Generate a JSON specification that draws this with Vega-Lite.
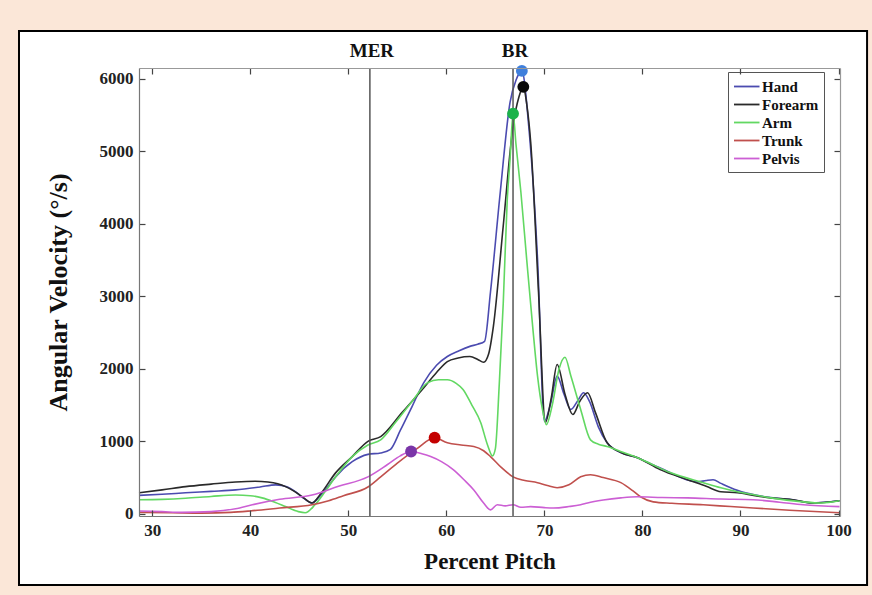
{
  "$schema": "https://vega.github.io/schema/vega-lite/v6.json",
  "width": 701,
  "height": 448,
  "autosize": {"type": "none"},
  "padding": {"left": 139, "top": 68, "right": 32, "bottom": 79},
  "background": "#fbe7d8",
  "config": {
    "view": {"stroke": null},
    "axis": {
      "labelFont": "Liberation Serif",
      "labelFontWeight": "bold",
      "labelFontSize": 17,
      "labelColor": "#222222",
      "titleFont": "Liberation Serif",
      "titleFontWeight": "bold",
      "titleColor": "#111111",
      "domainColor": "#777777",
      "domainWidth": 1.2,
      "tickColor": "#444444",
      "tickWidth": 1.2,
      "tickSize": -6,
      "labelPadding": 12,
      "grid": false
    },
    "legend": {
      "labelFont": "Liberation Serif",
      "labelFontWeight": "bold",
      "labelFontSize": 15,
      "labelColor": "#111111"
    }
  },
  "datasets": {
    "curves": [
      {"series":"Hand","pct":28.65,"vel":255},{"series":"Hand","pct":31,"vel":270},{"series":"Hand","pct":33.4,"vel":290},{"series":"Hand","pct":36,"vel":310},{"series":"Hand","pct":38.5,"vel":330},{"series":"Hand","pct":41,"vel":370},{"series":"Hand","pct":42.6,"vel":400},{"series":"Hand","pct":43.8,"vel":370},{"series":"Hand","pct":44.6,"vel":305},{"series":"Hand","pct":45.5,"vel":210},{"series":"Hand","pct":46.3,"vel":150},{"series":"Hand","pct":47,"vel":230},{"series":"Hand","pct":48,"vel":390},{"series":"Hand","pct":48.7,"vel":510},{"series":"Hand","pct":50.4,"vel":720},{"series":"Hand","pct":52,"vel":820},{"series":"Hand","pct":53.3,"vel":840},{"series":"Hand","pct":54.3,"vel":890},{"series":"Hand","pct":55.3,"vel":1150},{"series":"Hand","pct":56.5,"vel":1480},{"series":"Hand","pct":57.7,"vel":1810},{"series":"Hand","pct":59,"vel":2050},{"series":"Hand","pct":60.1,"vel":2170},{"series":"Hand","pct":61.3,"vel":2250},{"series":"Hand","pct":62.4,"vel":2310},{"series":"Hand","pct":63.2,"vel":2340},{"series":"Hand","pct":63.9,"vel":2380},{"series":"Hand","pct":64.5,"vel":3060},{"series":"Hand","pct":65.5,"vel":4440},{"series":"Hand","pct":66.5,"vel":5680},{"series":"Hand","pct":67.1,"vel":5980},{"series":"Hand","pct":67.7,"vel":6110},{"series":"Hand","pct":68.4,"vel":5350},{"series":"Hand","pct":69.3,"vel":3510},{"series":"Hand","pct":70,"vel":1280},{"series":"Hand","pct":70.6,"vel":1500},{"series":"Hand","pct":71.3,"vel":1900},{"series":"Hand","pct":72,"vel":1650},{"series":"Hand","pct":72.7,"vel":1440},{"series":"Hand","pct":73.4,"vel":1560},{"series":"Hand","pct":74,"vel":1670},{"series":"Hand","pct":74.6,"vel":1550},{"series":"Hand","pct":75.5,"vel":1200},{"series":"Hand","pct":76.4,"vel":980},{"series":"Hand","pct":77.8,"vel":845},{"series":"Hand","pct":79.5,"vel":775},{"series":"Hand","pct":81,"vel":680},{"series":"Hand","pct":82.9,"vel":565},{"series":"Hand","pct":84.5,"vel":470},{"series":"Hand","pct":85.6,"vel":440},{"series":"Hand","pct":86.5,"vel":460},{"series":"Hand","pct":87.2,"vel":470},{"series":"Hand","pct":88,"vel":420},{"series":"Hand","pct":89,"vel":360},{"series":"Hand","pct":90.2,"vel":300},{"series":"Hand","pct":91.3,"vel":265},{"series":"Hand","pct":93.1,"vel":225},{"series":"Hand","pct":95,"vel":200},{"series":"Hand","pct":97.4,"vel":150},{"series":"Hand","pct":98.5,"vel":160},{"series":"Hand","pct":100.1,"vel":180},

      {"series":"Forearm","pct":28.65,"vel":290},{"series":"Forearm","pct":31,"vel":330},{"series":"Forearm","pct":33.4,"vel":375},{"series":"Forearm","pct":36,"vel":410},{"series":"Forearm","pct":38.5,"vel":440},{"series":"Forearm","pct":40.5,"vel":450},{"series":"Forearm","pct":41.8,"vel":440},{"series":"Forearm","pct":42.8,"vel":415},{"series":"Forearm","pct":43.6,"vel":375},{"series":"Forearm","pct":44.5,"vel":310},{"series":"Forearm","pct":45.3,"vel":235},{"series":"Forearm","pct":46.3,"vel":150},{"series":"Forearm","pct":47.2,"vel":280},{"series":"Forearm","pct":48.7,"vel":565},{"series":"Forearm","pct":50.4,"vel":790},{"series":"Forearm","pct":52,"vel":1000},{"series":"Forearm","pct":53.3,"vel":1065},{"series":"Forearm","pct":55.5,"vel":1400},{"series":"Forearm","pct":57.7,"vel":1740},{"series":"Forearm","pct":59,"vel":1950},{"series":"Forearm","pct":60.1,"vel":2100},{"series":"Forearm","pct":61.2,"vel":2150},{"series":"Forearm","pct":62.4,"vel":2170},{"series":"Forearm","pct":63.2,"vel":2130},{"series":"Forearm","pct":63.8,"vel":2090},{"series":"Forearm","pct":64.3,"vel":2200},{"series":"Forearm","pct":64.8,"vel":2590},{"series":"Forearm","pct":65.8,"vel":3970},{"series":"Forearm","pct":66.8,"vel":5350},{"series":"Forearm","pct":67.4,"vel":5750},{"series":"Forearm","pct":67.85,"vel":5890},{"series":"Forearm","pct":68.2,"vel":5650},{"series":"Forearm","pct":68.6,"vel":5130},{"series":"Forearm","pct":69.4,"vel":3060},{"series":"Forearm","pct":70.1,"vel":1260},{"series":"Forearm","pct":70.7,"vel":1600},{"series":"Forearm","pct":71.3,"vel":2060},{"series":"Forearm","pct":72.1,"vel":1650},{"series":"Forearm","pct":72.9,"vel":1370},{"series":"Forearm","pct":73.6,"vel":1550},{"series":"Forearm","pct":74.4,"vel":1670},{"series":"Forearm","pct":75.2,"vel":1400},{"series":"Forearm","pct":76.4,"vel":980},{"series":"Forearm","pct":77.8,"vel":845},{"series":"Forearm","pct":79.5,"vel":775},{"series":"Forearm","pct":81.8,"vel":610},{"series":"Forearm","pct":84.6,"vel":470},{"series":"Forearm","pct":86.5,"vel":380},{"series":"Forearm","pct":88,"vel":305},{"series":"Forearm","pct":89.7,"vel":290},{"series":"Forearm","pct":91.5,"vel":250},{"series":"Forearm","pct":93.1,"vel":220},{"series":"Forearm","pct":95.5,"vel":190},{"series":"Forearm","pct":97.4,"vel":150},{"series":"Forearm","pct":100.1,"vel":180},

      {"series":"Arm","pct":28.65,"vel":194},{"series":"Arm","pct":31,"vel":200},{"series":"Arm","pct":33.4,"vel":215},{"series":"Arm","pct":36,"vel":240},{"series":"Arm","pct":38.5,"vel":260},{"series":"Arm","pct":40,"vel":250},{"series":"Arm","pct":41.2,"vel":220},{"series":"Arm","pct":42.5,"vel":160},{"series":"Arm","pct":43.6,"vel":100},{"series":"Arm","pct":44.9,"vel":30},{"series":"Arm","pct":45.6,"vel":15},{"series":"Arm","pct":46.6,"vel":125},{"series":"Arm","pct":47.6,"vel":300},{"series":"Arm","pct":48.7,"vel":510},{"series":"Arm","pct":50.4,"vel":790},{"series":"Arm","pct":52,"vel":950},{"series":"Arm","pct":53.3,"vel":1020},{"series":"Arm","pct":54.8,"vel":1260},{"series":"Arm","pct":56.5,"vel":1550},{"series":"Arm","pct":58.1,"vel":1810},{"series":"Arm","pct":59.2,"vel":1850},{"series":"Arm","pct":60.1,"vel":1850},{"series":"Arm","pct":61,"vel":1800},{"series":"Arm","pct":61.7,"vel":1715},{"series":"Arm","pct":62.6,"vel":1500},{"series":"Arm","pct":63.5,"vel":1260},{"series":"Arm","pct":64.2,"vel":950},{"series":"Arm","pct":64.7,"vel":800},{"series":"Arm","pct":65,"vel":900},{"series":"Arm","pct":65.4,"vel":1800},{"series":"Arm","pct":65.8,"vel":2900},{"series":"Arm","pct":66.2,"vel":4300},{"series":"Arm","pct":66.5,"vel":4900},{"series":"Arm","pct":66.8,"vel":5520},{"series":"Arm","pct":67.1,"vel":5100},{"series":"Arm","pct":67.6,"vel":4440},{"series":"Arm","pct":68.2,"vel":3500},{"series":"Arm","pct":68.8,"vel":2590},{"series":"Arm","pct":69.3,"vel":1900},{"series":"Arm","pct":69.8,"vel":1440},{"series":"Arm","pct":70.2,"vel":1230},{"series":"Arm","pct":70.8,"vel":1500},{"series":"Arm","pct":71.5,"vel":2000},{"series":"Arm","pct":72.1,"vel":2160},{"series":"Arm","pct":72.7,"vel":1900},{"series":"Arm","pct":73.7,"vel":1440},{"series":"Arm","pct":74.7,"vel":1020},{"series":"Arm","pct":75.5,"vel":960},{"series":"Arm","pct":76.4,"vel":930},{"series":"Arm","pct":78,"vel":850},{"series":"Arm","pct":79.5,"vel":775},{"series":"Arm","pct":81,"vel":680},{"series":"Arm","pct":82.9,"vel":565},{"series":"Arm","pct":86.2,"vel":430},{"series":"Arm","pct":88,"vel":360},{"series":"Arm","pct":89.7,"vel":305},{"series":"Arm","pct":91.5,"vel":260},{"series":"Arm","pct":93.1,"vel":220},{"series":"Arm","pct":96.4,"vel":165},{"series":"Arm","pct":98.2,"vel":150},{"series":"Arm","pct":100.1,"vel":180},

      {"series":"Trunk","pct":28.65,"vel":20},{"series":"Trunk","pct":32,"vel":15},{"series":"Trunk","pct":35,"vel":10},{"series":"Trunk","pct":38,"vel":20},{"series":"Trunk","pct":40,"vel":40},{"series":"Trunk","pct":43,"vel":80},{"series":"Trunk","pct":46.3,"vel":125},{"series":"Trunk","pct":48,"vel":180},{"series":"Trunk","pct":49.5,"vel":250},{"series":"Trunk","pct":52,"vel":370},{"series":"Trunk","pct":53.3,"vel":510},{"series":"Trunk","pct":55,"vel":700},{"series":"Trunk","pct":57,"vel":900},{"series":"Trunk","pct":58.8,"vel":1050},{"series":"Trunk","pct":60.1,"vel":980},{"series":"Trunk","pct":61.5,"vel":950},{"series":"Trunk","pct":62.8,"vel":930},{"series":"Trunk","pct":63.8,"vel":870},{"series":"Trunk","pct":64.5,"vel":790},{"series":"Trunk","pct":65.6,"vel":640},{"series":"Trunk","pct":66.8,"vel":510},{"series":"Trunk","pct":68,"vel":460},{"series":"Trunk","pct":69.3,"vel":430},{"series":"Trunk","pct":70.3,"vel":390},{"series":"Trunk","pct":71.3,"vel":360},{"series":"Trunk","pct":72.5,"vel":400},{"series":"Trunk","pct":73.7,"vel":510},{"series":"Trunk","pct":74.7,"vel":540},{"series":"Trunk","pct":76,"vel":500},{"series":"Trunk","pct":77.8,"vel":430},{"series":"Trunk","pct":79,"vel":320},{"series":"Trunk","pct":79.8,"vel":235},{"series":"Trunk","pct":81.1,"vel":165},{"series":"Trunk","pct":83,"vel":145},{"series":"Trunk","pct":86.2,"vel":125},{"series":"Trunk","pct":89,"vel":100},{"series":"Trunk","pct":91.3,"vel":80},{"series":"Trunk","pct":95,"vel":50},{"series":"Trunk","pct":100.1,"vel":15},

      {"series":"Pelvis","pct":28.65,"vel":40},{"series":"Pelvis","pct":31,"vel":30},{"series":"Pelvis","pct":33,"vel":20},{"series":"Pelvis","pct":36,"vel":30},{"series":"Pelvis","pct":38.5,"vel":70},{"series":"Pelvis","pct":40.2,"vel":125},{"series":"Pelvis","pct":43,"vel":200},{"series":"Pelvis","pct":46.3,"vel":260},{"series":"Pelvis","pct":49,"vel":380},{"series":"Pelvis","pct":52,"vel":510},{"series":"Pelvis","pct":54,"vel":680},{"series":"Pelvis","pct":55.3,"vel":800},{"series":"Pelvis","pct":56.4,"vel":860},{"series":"Pelvis","pct":57.5,"vel":830},{"series":"Pelvis","pct":58.4,"vel":790},{"series":"Pelvis","pct":59.5,"vel":720},{"series":"Pelvis","pct":60.7,"vel":610},{"series":"Pelvis","pct":61.8,"vel":470},{"series":"Pelvis","pct":62.8,"vel":330},{"series":"Pelvis","pct":63.8,"vel":150},{"series":"Pelvis","pct":64.5,"vel":55},{"series":"Pelvis","pct":65.2,"vel":125},{"series":"Pelvis","pct":66,"vel":110},{"series":"Pelvis","pct":66.8,"vel":125},{"series":"Pelvis","pct":67.6,"vel":90},{"series":"Pelvis","pct":68.6,"vel":100},{"series":"Pelvis","pct":70,"vel":85},{"series":"Pelvis","pct":70.9,"vel":80},{"series":"Pelvis","pct":72.5,"vel":100},{"series":"Pelvis","pct":73.7,"vel":125},{"series":"Pelvis","pct":74.4,"vel":150},{"series":"Pelvis","pct":76,"vel":190},{"series":"Pelvis","pct":77.8,"vel":220},{"series":"Pelvis","pct":79.5,"vel":235},{"series":"Pelvis","pct":82,"vel":225},{"series":"Pelvis","pct":84.6,"vel":220},{"series":"Pelvis","pct":88,"vel":205},{"series":"Pelvis","pct":91.3,"vel":195},{"series":"Pelvis","pct":94,"vel":160},{"series":"Pelvis","pct":96.4,"vel":125},{"series":"Pelvis","pct":100.1,"vel":100}
    ],
    "peaks": [
      {"series":"Hand","pct":67.7,"vel":6110},
      {"series":"Forearm","pct":67.85,"vel":5890},
      {"series":"Arm","pct":66.8,"vel":5520},
      {"series":"Trunk","pct":58.8,"vel":1050},
      {"series":"Pelvis","pct":56.4,"vel":860}
    ],
    "events": [
      {"label":"MER","pct":52.2},
      {"label":"BR","pct":66.8}
    ]
  },
  "layer": [
    {
      "data": {"values": [{}]},
      "mark": {"type": "rect", "fill": "#ffffff", "stroke": "#000000", "strokeWidth": 2},
      "encoding": {
        "x": {"datum": 16.41, "type": "quantitative", "scale": {"domain": [28.65, 100.15], "nice": false, "zero": false}, "axis": null},
        "x2": {"datum": 102.91},
        "y": {"datum": 6660, "type": "quantitative", "scale": {"domain": [-30, 6150], "nice": false, "zero": false}, "axis": null},
        "y2": {"datum": -982}
      }
    },
    {
      "data": {"name": "curves"},
      "mark": {"type": "line", "interpolate": "monotone", "strokeWidth": 1.6},
      "encoding": {
        "x": {"field": "pct", "type": "quantitative", "axis": {"orient": "bottom", "zindex": 1, "values": [30,40,50,60,70,80,90,100], "title": "Percent Pitch", "titleFontSize": 23, "titlePadding": 12}},
        "y": {"field": "vel", "type": "quantitative", "axis": {"orient": "left", "zindex": 1, "format": "d", "values": [0,1000,2000,3000,4000,5000,6000], "title": "Angular Velocity (°/s)", "titleFontSize": 26, "titlePadding": 28}},
        "color": {
          "field": "series", "type": "nominal",
          "scale": {"domain": ["Hand","Forearm","Arm","Trunk","Pelvis"], "range": ["#4b4bb0","#2a2a2a","#62d862","#c0504d","#cc5fd4"]},
          "legend": {"title": null, "orient": "none", "legendX": 589, "legendY": 4, "symbolType": "M-1,0H2", "symbolSize": 289, "symbolStrokeWidth": 1.8, "rowPadding": -1, "padding": 5, "labelOffset": 10, "fillColor": "#ffffff", "strokeColor": "#555555"}
        }
      }
    },
    {
      "data": {"name": "events"},
      "mark": {"type": "rule", "color": "#555555", "strokeWidth": 1.5},
      "encoding": {
        "x": {"field": "pct", "type": "quantitative", "axis": {"orient": "top", "zindex": 1, "values": [30,40,50,60,70,80,90,100], "labels": false, "title": null, "domainColor": "#999999"}}
      }
    },
    {
      "data": {"name": "events"},
      "mark": {"type": "text", "font": "Liberation Serif", "fontWeight": "bold", "fontSize": 19, "color": "#111111", "baseline": "middle", "dx": 2},
      "encoding": {
        "x": {"field": "pct", "type": "quantitative", "axis": null},
        "y": {"datum": 6390, "type": "quantitative", "axis": {"orient": "right", "zindex": 1, "values": [0,1000,2000,3000,4000,5000,6000], "labels": false, "title": null, "domainColor": "#999999"}},
        "text": {"field": "label"}
      }
    },
    {
      "data": {"name": "peaks"},
      "mark": {"type": "point", "filled": true, "opacity": 1, "size": 140},
      "encoding": {
        "x": {"field": "pct", "type": "quantitative", "axis": null},
        "y": {"field": "vel", "type": "quantitative", "axis": null},
        "color": {"field": "series", "type": "nominal", "scale": {"domain": ["Hand","Forearm","Arm","Trunk","Pelvis"], "range": ["#3f7fdc","#0a0a0a","#1bb34a","#c40000","#7a35a8"]}, "legend": null}
      }
    }
  ],
  "resolve": {"axis": {"x": "independent", "y": "independent"}, "scale": {"color": "independent"}}
}
